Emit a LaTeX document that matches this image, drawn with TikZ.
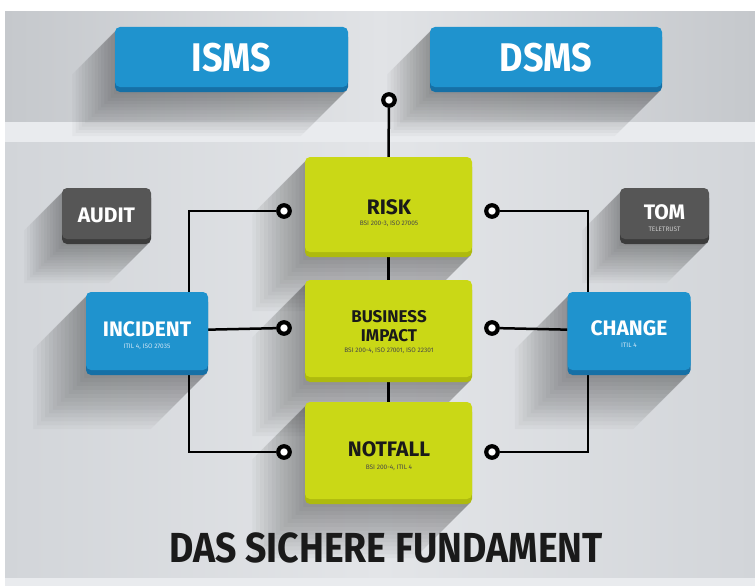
\documentclass[tikz,border=0pt]{standalone}
\usepackage{fontspec}
\setmainfont{Fira Sans}
\usetikzlibrary{shadows,calc}
\pgfdeclarelayer{bg}\pgfdeclarelayer{shade}\pgfdeclarelayer{lines}
\pgfsetlayers{bg,shade,lines,main}
\definecolor{blueA}{HTML}{1F93CE}
\definecolor{blueB}{HTML}{1670A6}
\definecolor{limeA}{HTML}{CAD816}
\definecolor{limeB}{HTML}{AEBA0E}
\definecolor{greyA}{HTML}{565656}
\definecolor{greyB}{HTML}{3C3C3C}
\definecolor{bandE}{HTML}{C5C8CC}
\definecolor{bandC}{HTML}{E1E3E6}
\definecolor{stripC}{HTML}{E9EBEE}
\definecolor{mainE}{HTML}{D2D5D9}
\definecolor{mainC}{HTML}{E3E5E8}
\definecolor{inkA}{HTML}{1A1A1A}
\definecolor{subW}{HTML}{CFE5F4}
\newcommand\longshadow[2]{%
  \coordinate (sA) at ($(#1.north west)+(2.5,2.5)$);
  \coordinate (sB) at ($(#1.south east)+(-2.5,4)$);
  \foreach \k in {1,...,14}{%
    \pgfmathsetmacro\LL{#2*\k/14}
    \fill[black, fill opacity=0.028] (sA) -- ++(-\LL,\LL) -- ($(sA|-sB)+(-\LL,\LL)$)
      -- ($(sB)+(-\LL,\LL)$) -- (sB) -- (sB|-sA) -- cycle;}}
\begin{document}
\begin{tikzpicture}[x=1pt,y=-1pt,
  box/.style={rounded corners=5pt, inner sep=0pt},
  bluebox/.style={box, fill=blueA, general shadow={fill=blueB, shadow yshift=-5pt}},
  limebox/.style={box, fill=limeA, general shadow={fill=limeB, shadow yshift=-5pt}},
  greybox/.style={box, fill=greyA, general shadow={fill=greyB, shadow yshift=-5pt}},
  ring/.style={circle, draw=black, line width=4.2pt, fill=white, minimum size=11.5pt, inner sep=0pt},
  conn/.style={draw=black, line width=2.5pt},
  bigw/.style={text=white, font=\fontsize{40}{44}\selectfont\bfseries, inner sep=0pt},
  midw/.style={text=white, font=\fontsize{21}{24}\selectfont\bfseries, inner sep=0pt},
  midk/.style={text=inkA, font=\fontsize{21}{24}\selectfont\bfseries, inner sep=0pt},
  bik/.style={text=inkA, font=\fontsize{17}{20}\selectfont\bfseries, inner sep=0pt},
  subk/.style={text=inkA!80, font=\fontsize{6.5}{7}\selectfont, inner sep=0pt},
  subw/.style={text=subW, font=\fontsize{6.5}{7}\selectfont, inner sep=0pt},
  subg/.style={text=black!20, font=\fontsize{6.5}{7}\selectfont, inner sep=0pt},
  ttl/.style={text=inkA, font=\fontsize{42}{46}\selectfont\bfseries, inner sep=0pt}]
\useasboundingbox (0,0) rectangle (755,586);
\begin{pgfonlayer}{bg}
  \fill[white] (0,0) rectangle (755,586);
  \shade[left color=bandE, right color=bandE, middle color=bandC] (5,12) rectangle (755,122);
  \fill[stripC] (5,122) rectangle (755,142);
  \shade[left color=mainE, right color=mainE, middle color=mainC] (5,142) rectangle (755,578);
  \fill[stripC] (5,578) rectangle (755,586);
\end{pgfonlayer}
% boxes
\node[bluebox, minimum width=233, minimum height=60] (isms) at (231.5,57) {};
\node[bigw] (isms-t) at (231.5,58) {\scalebox{0.9}[1]{ISMS}};
\node[bluebox, minimum width=232, minimum height=60] (dsms) at (546,57) {};
\node[bigw] (dsms-t) at (546,58) {\scalebox{0.9}[1]{DSMS}};
\node[limebox, minimum width=167, minimum height=95] (risk) at (388.5,204.5) {};
\node[midk] (risk-t) at (389,207) {RISK};
\node[subk] (risk-s) at (389,224) {BSI 200-3, ISO 27005};
\node[limebox, minimum width=167, minimum height=97] (bi) at (388.5,328.5) {};
\node[bik] (bi-t1) at (389,316.5) {BUSINESS};
\node[bik] (bi-t2) at (389,335.5) {IMPACT};
\node[subk] (bi-s) at (389,350.5) {BSI 200-4, ISO 27001, ISO 22301};
\node[limebox, minimum width=167, minimum height=97] (nf) at (388.5,450.5) {};
\node[midk] (nf-t) at (389,449.5) {NOTFALL};
\node[subk] (nf-s) at (389,467.5) {BSI 200-4, ITIL 4};
\node[greybox, minimum width=89, minimum height=51] (audit) at (106.5,213.5) {};
\node[midw] (audit-t) at (106.5,215.5) {AUDIT};
\node[greybox, minimum width=89, minimum height=51] (tom) at (664.5,213.5) {};
\node[midw] (tom-t) at (664.5,212) {TOM};
\node[subg] (tom-s) at (664.5,229) {TELETRUST};
\node[bluebox, minimum width=122, minimum height=78] (inc) at (147,331) {};
\node[midw] (inc-t) at (147,329) {INCIDENT};
\node[subw] (inc-s) at (147,346.5) {ITIL 4, ISO 27035};
\node[bluebox, minimum width=123, minimum height=78] (chg) at (629,331) {};
\node[midw] (chg-t) at (629,328.5) {CHANGE};
\node[subw] (chg-s) at (629,345) {ITIL 4};
% rings
\node[ring] (c0) at (389,100) {};
\node[ring] (l1) at (284,211) {};
\node[ring] (l2) at (284,328) {};
\node[ring] (l3) at (284,452) {};
\node[ring] (r1) at (492,211) {};
\node[ring] (r2) at (492,328) {};
\node[ring] (r3) at (492,452) {};
\coordinate (xl) at (189,0);
\coordinate (xr) at (588,0);
\node[ttl] (title) at (386,548) {\scalebox{0.89}[1]{DAS SICHERE FUNDAMENT}};
% shadows
\begin{pgfonlayer}{shade}
  \longshadow{isms}{45}
  \longshadow{dsms}{45}
  \longshadow{risk}{55}
  \longshadow{bi}{55}
  \longshadow{nf}{55}
  \longshadow{audit}{40}
  \longshadow{tom}{40}
  \longshadow{inc}{55}
  \longshadow{chg}{55}
\end{pgfonlayer}
% connectors
\begin{pgfonlayer}{lines}
  \draw[conn] (c0) -- (risk.north);
  \draw[conn] (risk.south) -- (bi.north);
  \draw[conn] (bi.south) -- (nf.north);
  \draw[conn] (l1) -- (l1 -| xl) -- (l3 -| xl) -- (l3);
  \draw[conn] (inc) -- (l2);
  \draw[conn] (r1) -- (r1 -| xr) -- (r3 -| xr) -- (r3);
  \draw[conn] (chg) -- (r2);
\end{pgfonlayer}
\end{tikzpicture}
\end{document}
